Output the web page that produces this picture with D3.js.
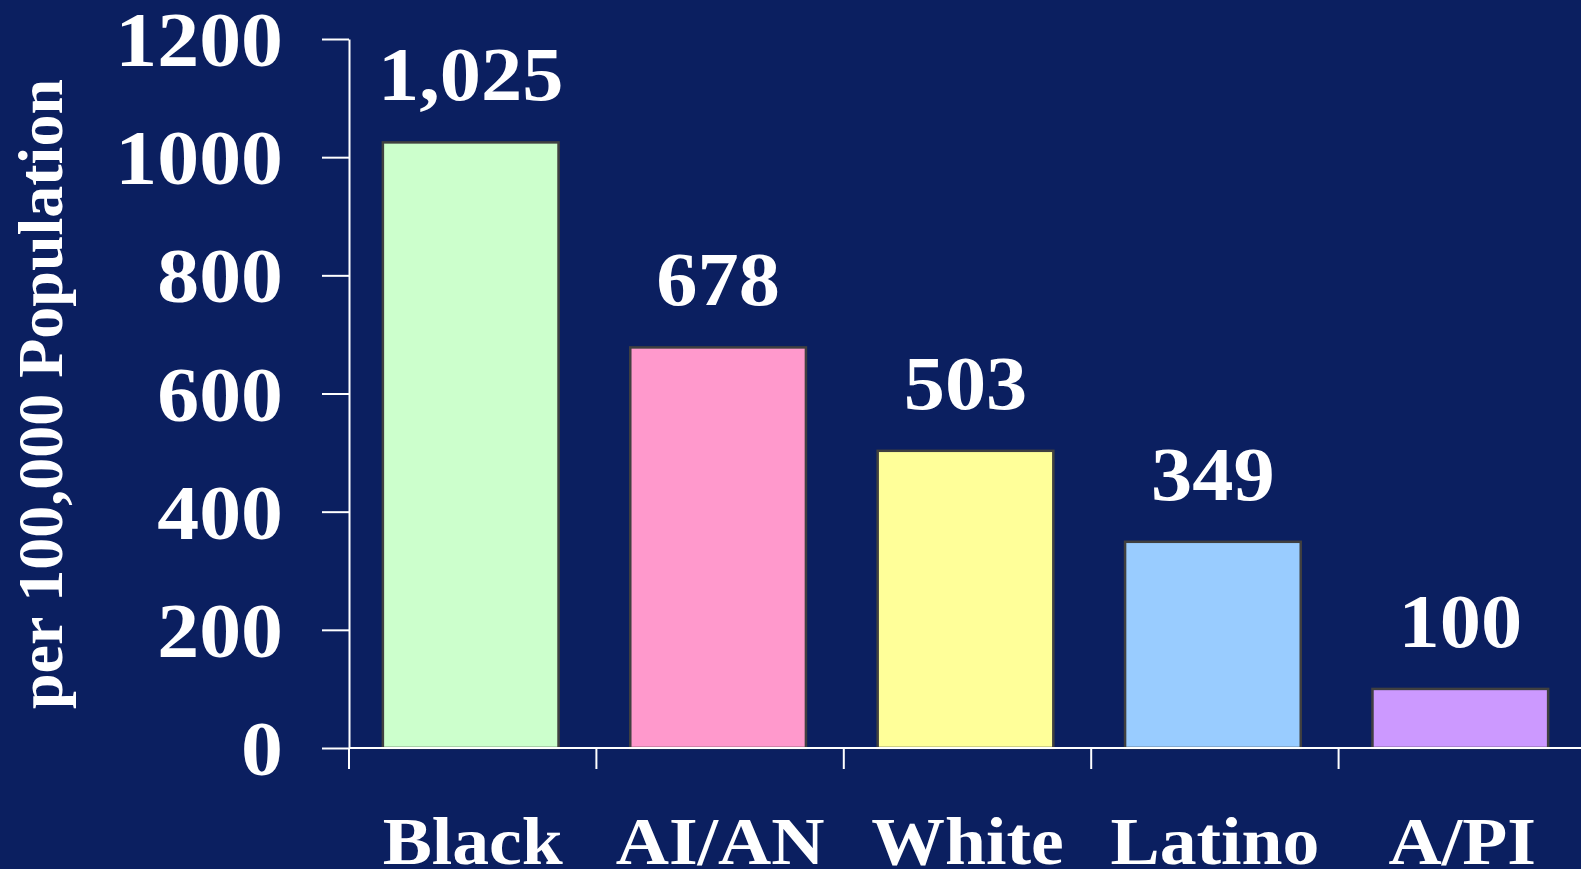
<!DOCTYPE html>
<html>
<head>
<meta charset="utf-8">
<script src="https://cdn.jsdelivr.net/npm/d3@7"></script>
<style>
  html, body { margin: 0; padding: 0; background: #0b1f60; overflow: hidden; }
  svg { display: block; }
  text { font-family: "Liberation Serif", "Times New Roman", serif; font-weight: bold; fill: #ffffff; }
</style>
</head>
<body>
<svg id="chart" width="1581" height="869"></svg>
<script>
const categories = ["Black", "AI/AN", "White", "Latino", "A/PI"];
const values = [1025, 678, 503, 349, 100];
const colors = ["#ccffcc", "#ff99cc", "#ffff99", "#99ccff", "#cc99ff"];
const yTicks = [0, 200, 400, 600, 800, 1000, 1200];
const yTitle = "per 100,000 Population";

const svg = d3.select("#chart");
svg.append("rect").attr("width", 1581).attr("height", 869).attr("fill", "#0b1f60");

const x = d3.scaleBand().domain(categories).range([349, 1586]).paddingInner(0.29).paddingOuter(0.145).align(0.5);
const y = d3.scaleLinear().domain([0, 1200]).range([748, 39]);

// Bars
svg.selectAll("rect.bar").data(categories).enter().append("rect")
  .attr("class", "bar")
  .attr("x", d => x(d) - 2)
  .attr("y", (d, i) => y(values[i]))
  .attr("width", x.bandwidth())
  .attr("height", (d, i) => y(0) - y(values[i]))
  .attr("fill", (d, i) => colors[i])
  .attr("stroke", "#404040")
  .attr("stroke-width", 2.5);

// Y axis
const sx = 1.075;
const yAxis = d3.axisLeft(y).tickValues(yTicks).tickSize(27).tickSizeOuter(0).tickPadding(39).tickFormat(d3.format("d"));
const gy = svg.append("g").attr("transform", "translate(349,0)").call(yAxis);
gy.select(".domain").attr("stroke", "#ffffff").attr("stroke-width", 2);
gy.selectAll(".tick line").attr("stroke", "#ffffff").attr("stroke-width", 2);
gy.selectAll(".tick text").attr("font-size", 78).attr("fill", "#ffffff")
  .attr("font-family", "'Liberation Serif', 'Times New Roman', serif").attr("font-weight", "bold")
  .attr("dy", "0.34em")
  .attr("x", -66 / sx)
  .attr("transform", `scale(${sx},1)`);

// X axis line and ticks at band boundaries
const x0 = x.range()[0];
svg.append("line").attr("x1", x0).attr("x2", 1581).attr("y1", y(0)).attr("y2", y(0))
  .attr("stroke", "#ffffff").attr("stroke-width", 2);
svg.selectAll("line.xtick").data(categories).enter().append("line")
  .attr("class", "xtick")
  .attr("x1", (d, i) => x0 + i * x.step()).attr("x2", (d, i) => x0 + i * x.step())
  .attr("y1", y(0)).attr("y2", y(0) + 21)
  .attr("stroke", "#ffffff").attr("stroke-width", 2);

// Category labels
svg.selectAll("text.cat").data(categories).enter().append("text")
  .attr("class", "cat")
  .attr("text-anchor", "middle")
  .attr("font-size", 67)
  .attr("transform", d => `translate(${x0 + categories.indexOf(d) * x.step() + x.step() / 2},864) scale(1.1,1)`)
  .text(d => d);

// Value labels
const fmt = d3.format(",");
svg.selectAll("text.val").data(categories).enter().append("text")
  .attr("class", "val")
  .attr("text-anchor", "middle")
  .attr("font-size", 77)
  .attr("transform", (d, i) => `translate(${x(d) - 2 + x.bandwidth() / 2},${y(values[i]) - 42}) scale(1.07,1)`)
  .text((d, i) => fmt(values[i]));

// Y title
svg.append("text")
  .attr("text-anchor", "middle")
  .attr("font-size", 64)
  .attr("transform", "translate(62,394) rotate(-90)")
  .text(yTitle);
</script>
</body>
</html>
